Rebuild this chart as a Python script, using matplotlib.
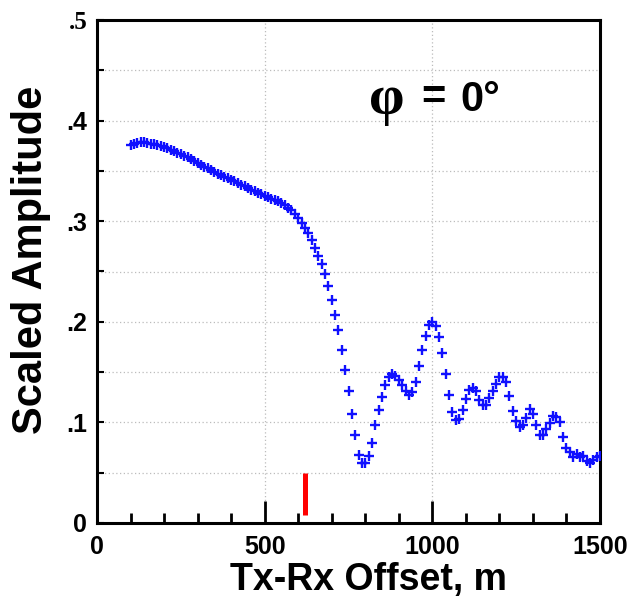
import matplotlib
matplotlib.use('Agg')
import matplotlib.pyplot as plt
from matplotlib.ticker import MultipleLocator, FixedLocator

plt.rcParams['font.family'] = 'Liberation Sans'
plt.rcParams['font.weight'] = 'bold'

# measured offsets (m) and scaled amplitudes
offset = [100, 110, 120, 130, 140, 150, 160, 170, 180, 190,
          200, 210, 220, 230, 240, 250, 260, 270, 280, 290,
          300, 310, 320, 330, 340, 350, 360, 370, 380, 390,
          400, 410, 420, 430, 440, 450, 460, 470, 480, 490,
          500, 510, 520, 530, 540, 550, 560, 570, 580, 590,
          600, 610, 620, 630, 640, 650, 660, 670, 680, 690,
          700, 710, 720, 730, 740, 750, 760, 770, 780, 790,
          800, 810, 820, 830, 840, 850, 860, 870, 880, 890,
          900, 910, 920, 930, 940, 950, 960, 970, 980, 990,
          1000, 1010, 1020, 1030, 1040, 1050, 1060, 1070, 1080, 1090,
          1100, 1110, 1120, 1130, 1140, 1150, 1160, 1170, 1180, 1190,
          1200, 1210, 1220, 1230, 1240, 1250, 1260, 1270, 1280, 1290,
          1300, 1310, 1320, 1330, 1340, 1350, 1360, 1370, 1380, 1390,
          1400, 1410, 1420, 1430, 1440, 1450, 1460, 1470, 1480, 1490,
          1500]
amplitude = [0.376, 0.377, 0.378, 0.379, 0.379, 0.378, 0.377, 0.377, 0.376, 0.375,
             0.374, 0.373, 0.371, 0.370, 0.368, 0.367, 0.365, 0.364, 0.362, 0.360,
             0.358, 0.356, 0.354, 0.353, 0.351, 0.349, 0.347, 0.346, 0.344, 0.343,
             0.341, 0.340, 0.338, 0.336, 0.335, 0.333, 0.331, 0.330, 0.328, 0.327,
             0.325, 0.324, 0.322, 0.321, 0.320, 0.318, 0.316, 0.313, 0.311, 0.307,
             0.303, 0.298, 0.293, 0.288, 0.281, 0.273, 0.265, 0.257, 0.248, 0.236,
             0.222, 0.207, 0.192, 0.172, 0.152, 0.131, 0.108, 0.087, 0.068, 0.060,
             0.060, 0.067, 0.080, 0.097, 0.112, 0.125, 0.137, 0.145, 0.148, 0.146,
             0.142, 0.137, 0.131, 0.127, 0.130, 0.140, 0.156, 0.172, 0.186, 0.197,
             0.200, 0.196, 0.185, 0.169, 0.148, 0.127, 0.110, 0.102, 0.103, 0.112,
             0.123, 0.132, 0.134, 0.131, 0.122, 0.117, 0.117, 0.124, 0.131, 0.138,
             0.145, 0.145, 0.140, 0.126, 0.111, 0.101, 0.095, 0.097, 0.104, 0.113,
             0.108, 0.097, 0.087, 0.087, 0.093, 0.099, 0.106, 0.105, 0.100, 0.085,
             0.075, 0.071, 0.066, 0.069, 0.066, 0.067, 0.062, 0.060, 0.063, 0.066,
             0.067]

# red marker on the offset axis
marker_offset = 620
marker_range = [0.008, 0.05]

ytick_vals = [0, 0.1, 0.2, 0.3, 0.4, 0.5]
ytick_text = ['0', '.1', '.2', '.3', '.4', '.5']
xtick_vals = [0, 500, 1000, 1500]

fig = plt.figure(figsize=(6.35, 6.06), dpi=100)
ax = fig.add_axes([97/635, 1-523/606, 503/635, 503/606])

ax.plot(offset, amplitude, linestyle='None', marker='+', color='#1010ff',
        markersize=6.5, markeredgewidth=1.7, zorder=3)
ax.plot([marker_offset, marker_offset], marker_range, color='red',
        linewidth=3.6, solid_capstyle='butt', zorder=3)

ax.set_xlim(0, 1500)
ax.set_ylim(0, 0.5)

# dotted grid
for g in [0.05, 0.1, 0.15, 0.2, 0.25, 0.3, 0.35, 0.4, 0.45]:
    ax.axhline(g, color='#bcbcbc', linestyle=(0, (1, 2)), linewidth=0.9, zorder=1)
for g in [500, 1000]:
    ax.axvline(g, color='#bcbcbc', linestyle=(0, (1, 2)), linewidth=0.9, zorder=1)

ax.xaxis.set_major_locator(FixedLocator(xtick_vals))
ax.xaxis.set_minor_locator(MultipleLocator(100))
ax.yaxis.set_major_locator(FixedLocator(ytick_vals))
ax.yaxis.set_minor_locator(MultipleLocator(0.05))
ax.set_xticklabels([str(v) for v in xtick_vals])
ax.set_yticklabels(ytick_text)

ax.tick_params(axis='x', which='major', direction='in', length=16, width=2,
               labelsize=18, pad=9)
ax.tick_params(axis='x', which='minor', direction='in', length=7, width=2)
ax.tick_params(axis='y', which='both', direction='in', length=5, width=1.5,
               labelsize=18, pad=7)
for t in ax.get_yticklabels():
    if t.get_text() == '.5':
        t.set_fontfamily('Liberation Serif')

for s in ax.spines.values():
    s.set_linewidth(2.2)

ax.set_xlabel('Tx-Rx Offset, m', fontsize=27, fontweight='bold')
ax.xaxis.set_label_coords((368 - 97) / 503, -(580 - 523) / 503)
ax.xaxis.label.set_va('center')
ax.set_ylabel('Scaled Amplitude', fontsize=30, fontweight='bold')
ax.yaxis.set_label_coords(-(97 - 31) / 503, (523 - 260) / 503)
ax.yaxis.label.set_va('center')

ax.text(0.577, 0.841, 'φ', transform=ax.transAxes, fontsize=41,
        family='Liberation Serif', fontweight='bold', ha='center', va='center')
ax.text(0.668, 0.845, '=', transform=ax.transAxes, fontsize=30,
        fontweight='bold', ha='center', va='center')
ax.text(0.722, 0.841, '0°', transform=ax.transAxes, fontsize=30,
        fontweight='bold', ha='left', va='center')

fig.savefig('out.png', dpi=100)
